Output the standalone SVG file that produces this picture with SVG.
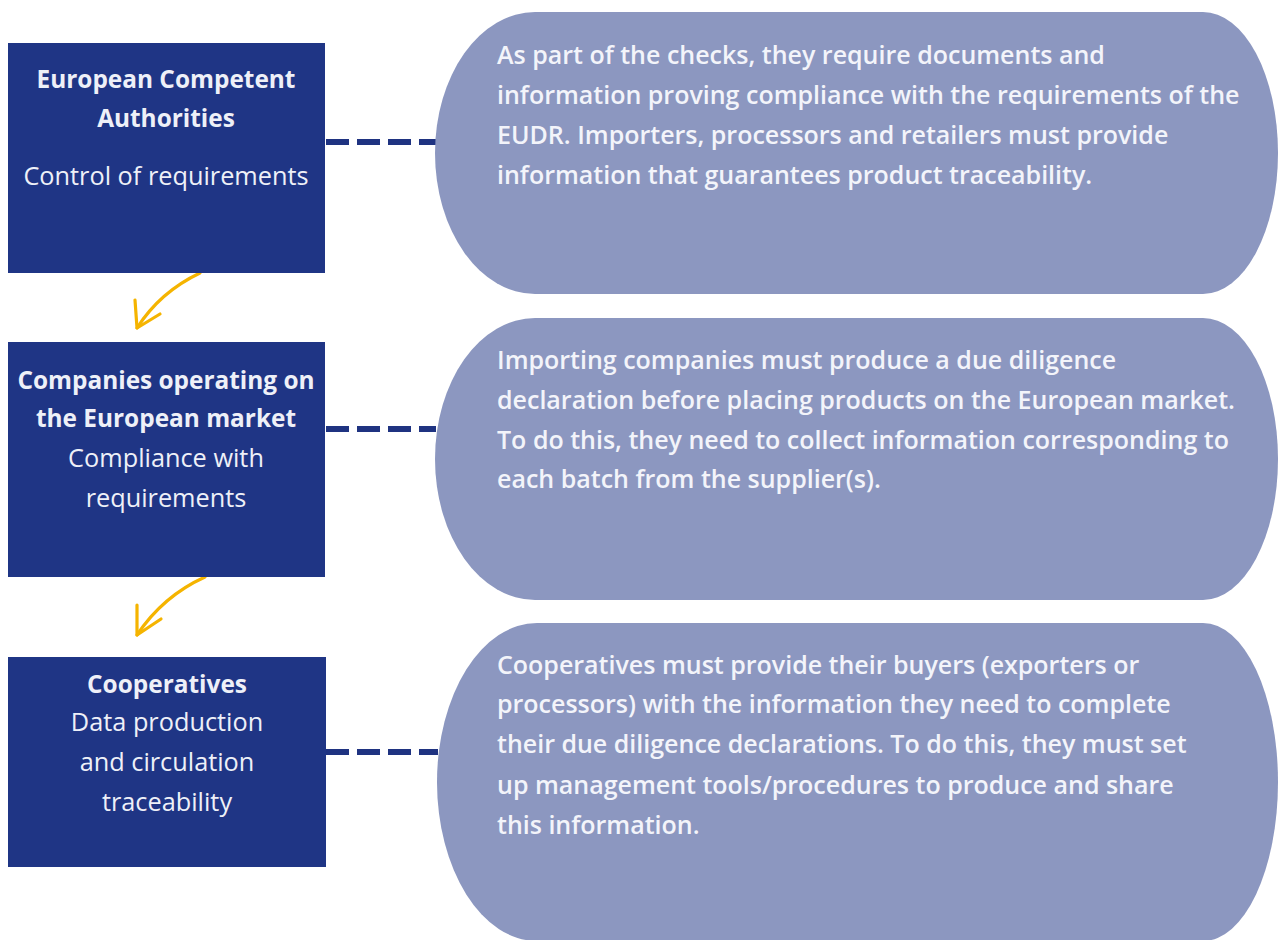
<svg xmlns="http://www.w3.org/2000/svg" width="1279" height="940" viewBox="0 0 1279 940">
<defs>
<style>
.box{fill:#1f3585;}
.pill{fill:#8c97c0;}
.bt{font-family:"Open Sans","Liberation Sans",sans-serif;font-size:25.3px;fill:#eef0f8;text-anchor:middle;}
.b{font-weight:700;font-size:24.4px;}
.pt{font-family:"Open Sans","Liberation Sans",sans-serif;font-size:25px;font-weight:600;fill:#f3f4fa;}
.dash{stroke:#1f3381;stroke-width:6;stroke-dasharray:23 8;fill:none;}
.arr{stroke:#f5b400;stroke-width:3.2;fill:none;stroke-linecap:round;stroke-linejoin:round;}
</style>
</defs>
<rect width="1279" height="940" fill="#ffffff"/>
<g id="connectors">
<line class="dash" x1="326" y1="142" x2="436" y2="142"/>
<line class="dash" x1="326" y1="429" x2="436" y2="429"/>
<line class="dash" x1="326" y1="752" x2="438" y2="752"/>
<path class="arr" d="M200 273 Q160 292 137 328"/>
<path class="arr" d="M135 300 L137 328 L160 314"/>
<path class="arr" d="M205 577 Q163 596 137 635"/>
<path class="arr" d="M137 605 L137 635 L161 619"/>
</g>
<g id="authorities">
<rect class="box" x="8" y="43" width="317" height="230"/>
<text class="bt b" x="166" y="88">European Competent</text>
<text class="bt b" x="166" y="127">Authorities</text>
<text class="bt" x="166" y="185">Control of requirements</text>
</g>
<g id="companies">
<rect class="box" x="8" y="342" width="317" height="235"/>
<text class="bt b" x="166" y="389">Companies operating on</text>
<text class="bt b" x="166" y="427">the European market</text>
<text class="bt" x="166" y="467">Compliance with</text>
<text class="bt" x="166" y="507">requirements</text>
</g>
<g id="cooperatives">
<rect class="box" x="8" y="657" width="318" height="210"/>
<text class="bt b" x="167" y="693">Cooperatives</text>
<text class="bt" x="167" y="731">Data production</text>
<text class="bt" x="167" y="771">and circulation</text>
<text class="bt" x="167" y="811">traceability</text>
</g>
<g id="note-authorities">
<path class="pill" d="M535 12 H1203 A75 141 0 0 1 1278 153 A75 141 0 0 1 1203 294 H535 A100 141 0 0 1 435 153 A100 141 0 0 1 535 12 Z"/>
<text class="pt" x="497" y="64">As part of the checks, they require documents and</text>
<text class="pt" x="497" y="104">information proving compliance with the requirements of the</text>
<text class="pt" x="497" y="144">EUDR. Importers, processors and retailers must provide</text>
<text class="pt" x="497" y="184">information that guarantees product traceability.</text>
</g>
<g id="note-companies">
<path class="pill" d="M535 318 H1203 A75 141 0 0 1 1278 459 A75 141 0 0 1 1203 600 H535 A100 141 0 0 1 435 459 A100 141 0 0 1 535 318 Z"/>
<text class="pt" x="497" y="369">Importing companies must produce a due diligence</text>
<text class="pt" x="497" y="409">declaration before placing products on the European market.</text>
<text class="pt" x="497" y="449">To do this, they need to collect information corresponding to</text>
<text class="pt" x="497" y="488">each batch from the supplier(s).</text>
</g>
<g id="note-cooperatives">
<path class="pill" d="M537 623 H1203 A75 159 0 0 1 1278 782 A75 159 0 0 1 1203 941 H537 A100 159 0 0 1 437 782 A100 159 0 0 1 537 623 Z"/>
<text class="pt" x="497" y="674">Cooperatives must provide their buyers (exporters or</text>
<text class="pt" x="497" y="713">processors) with the information they need to complete</text>
<text class="pt" x="497" y="753">their due diligence declarations. To do this, they must set</text>
<text class="pt" x="497" y="794">up management tools/procedures to produce and share</text>
<text class="pt" x="497" y="834">this information.</text>
</g>
</svg>
